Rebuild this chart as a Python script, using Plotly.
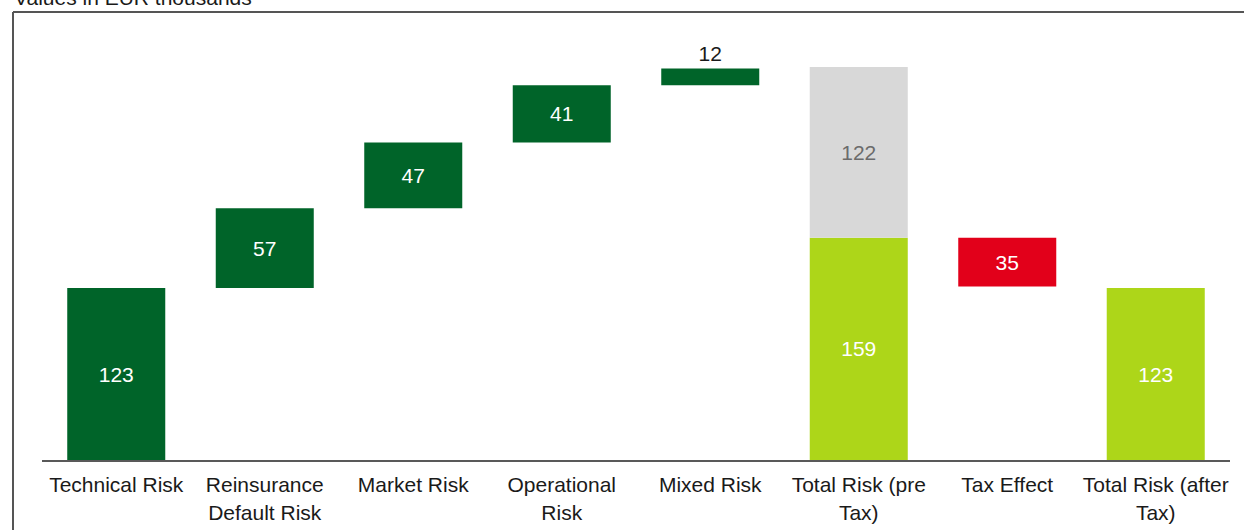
import plotly.graph_objects as go

# ---- data ----
categories = ["Technical Risk", "Reinsurance<br>Default Risk", "Market Risk", "Operational<br>Risk",
              "Mixed Risk", "Total Risk (pre<br>Tax)", "Tax Effect", "Total Risk (after<br>Tax)"]
kinds = ["step", "step", "step", "step", "step", "total", "tax", "total"]
values = [123, 57, 47, 41, 12, 159, 35, 123]
diversification = 122          # grey part stacked on the pre-tax total
title_text = "Values in EUR thousands"

# ---- derived bases (waterfall) ----
bases = []
running = 0
for k, v in zip(kinds, values):
    if k == "step":
        bases.append(running)
        running += v
    elif k == "total":
        bases.append(0)
        running = v
    else:  # tax reduces the previous total
        bases.append(running - v)
        running -= v

DARK = "#006429"
LIGHT = "#ADD619"
RED = "#E2001A"
GREY = "#D8D8D8"
colors = [DARK if k == "step" else (LIGHT if k == "total" else RED) for k in kinds]
positions = ["outside" if v < 20 else "inside" for v in values]
tcolors = ["#1a1a1a" if p == "outside" else "white" for p in positions]

FONT = "Liberation Sans, Arial, sans-serif"
W, H = 1244, 530
L, R, T, B = 42, 14, 20, 70
plot_h = H - T - B
px_per_unit = 172 / 123
y_max = plot_h / px_per_unit

fig = go.Figure()
fig.add_trace(go.Bar(
    x=categories, y=values, base=bases,
    marker=dict(color=colors, line=dict(width=0)),
    text=[str(v) for v in values], textposition=positions,
    insidetextanchor="middle",
    textfont=dict(color=tcolors, size=21, family=FONT),
    width=0.66, cliponaxis=False, showlegend=False, hoverinfo="skip",
))
total_idx = kinds.index("total")
fig.add_trace(go.Bar(
    x=[categories[total_idx]], y=[diversification], base=[values[total_idx]],
    marker=dict(color=GREY, line=dict(width=0)),
    text=[str(diversification)], textposition="inside", insidetextanchor="middle",
    textfont=dict(color="#6b6b6b", size=21, family=FONT),
    width=0.66, showlegend=False, hoverinfo="skip",
))

def px_to_paper_x(px):
    return (px - L) / (W - L - R)

def px_to_paper_y(py):
    return 1 - (py - T) / plot_h

frame_col = "#555555"
fig.add_shape(type="line", xref="paper", yref="paper",
              x0=px_to_paper_x(13), x1=px_to_paper_x(13),
              y0=px_to_paper_y(12), y1=px_to_paper_y(H + 5),
              line=dict(color=frame_col, width=2))
fig.add_shape(type="line", xref="paper", yref="paper",
              x0=px_to_paper_x(13), x1=px_to_paper_x(W + 5),
              y0=px_to_paper_y(12), y1=px_to_paper_y(12),
              line=dict(color=frame_col, width=2))

fig.add_annotation(text=title_text, xref="paper", yref="paper",
                   x=px_to_paper_x(12), y=px_to_paper_y(-2),
                   xanchor="left", yanchor="middle", showarrow=False,
                   font=dict(size=21, color="#1a1a1a", family=FONT))

fig.update_layout(
    width=W, height=H,
    margin=dict(l=L, r=R, t=T, b=B, autoexpand=False),
    barmode="overlay",
    paper_bgcolor="white", plot_bgcolor="white",
    font=dict(family=FONT, size=21, color="#1a1a1a"),
    uniformtext=dict(mode=False),
)
fig.update_xaxes(range=[-0.5, len(categories) - 0.5], showline=True, linecolor="#595959",
                 linewidth=2, ticks="", showgrid=False, zeroline=False, automargin=False,
                 tickfont=dict(size=21, color="#1a1a1a", family=FONT), tickangle=0,
                 ticklabelstandoff=5)
fig.update_yaxes(range=[0, y_max], visible=False, showgrid=False, zeroline=False,
                 automargin=False)

fig.write_html("out.html")
